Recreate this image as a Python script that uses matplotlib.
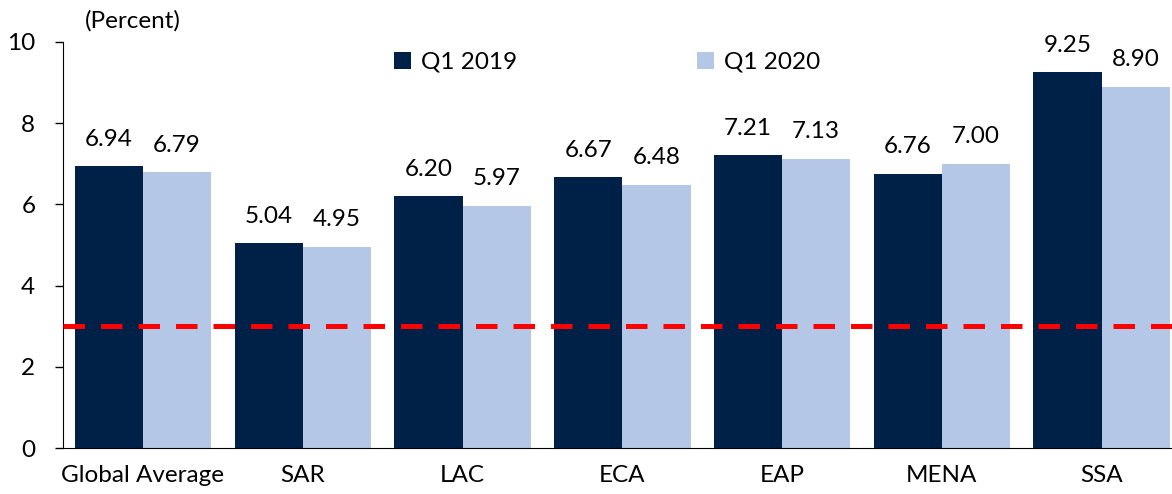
import numpy as np
import matplotlib.pyplot as plt

plt.rcParams['font.family'] = ['Lato', 'DejaVu Sans']

regions = ['Global Average', 'SAR', 'LAC', 'ECA', 'EAP', 'MENA', 'SSA']
q1_2019 = [6.94, 5.04, 6.20, 6.67, 7.21, 6.76, 9.25]
q1_2020 = [6.79, 4.95, 5.97, 6.48, 7.13, 7.00, 8.90]
threshold = 3

fig = plt.figure(figsize=(11.72, 4.94), dpi=100)
ax = fig.add_axes([0.0538, 0.093, 0.9462, 0.822])

x = np.arange(len(regions))
w = 0.427
b1 = ax.bar(x - w / 2, q1_2019, w, color='#002147', label='Q1 2019')
b2 = ax.bar(x + w / 2, q1_2020, w, color='#B4C7E7', label='Q1 2020')
ax.axhline(threshold, color='#FF0000', lw=3.6, ls=(0, (4.3, 3.2)), zorder=3)

for bars in (b1, b2):
    for bar in bars:
        h = bar.get_height()
        ax.annotate(f'{h:.2f}', (bar.get_x() + bar.get_width() / 2, h),
                    xytext=(0, 12), textcoords='offset points',
                    ha='center', va='bottom', fontsize=17.5)

ax.set_xlim(-0.5, 6.44)
ax.set_ylim(0, 10)
ax.set_yticks(range(0, 11, 2))
ax.set_xticks(x)
ax.set_xticklabels(regions)
ax.tick_params(axis='y', labelsize=17.5, length=6, width=1, pad=14)
ax.tick_params(axis='x', labelsize=17.5, length=0, pad=12)
for s in ('top', 'right'):
    ax.spines[s].set_visible(False)

ax.text(0.02, 1.025, '(Percent)', transform=ax.transAxes, fontsize=17.5,
        ha='left', va='bottom')
ax.legend(loc='upper left', bbox_to_anchor=(0.279, 1.03), ncol=2, frameon=False,
          fontsize=17.5, columnspacing=7.4, handlelength=0.7, handleheight=0.7,
          handletextpad=0.4)

fig.savefig('out.png', dpi=100)
